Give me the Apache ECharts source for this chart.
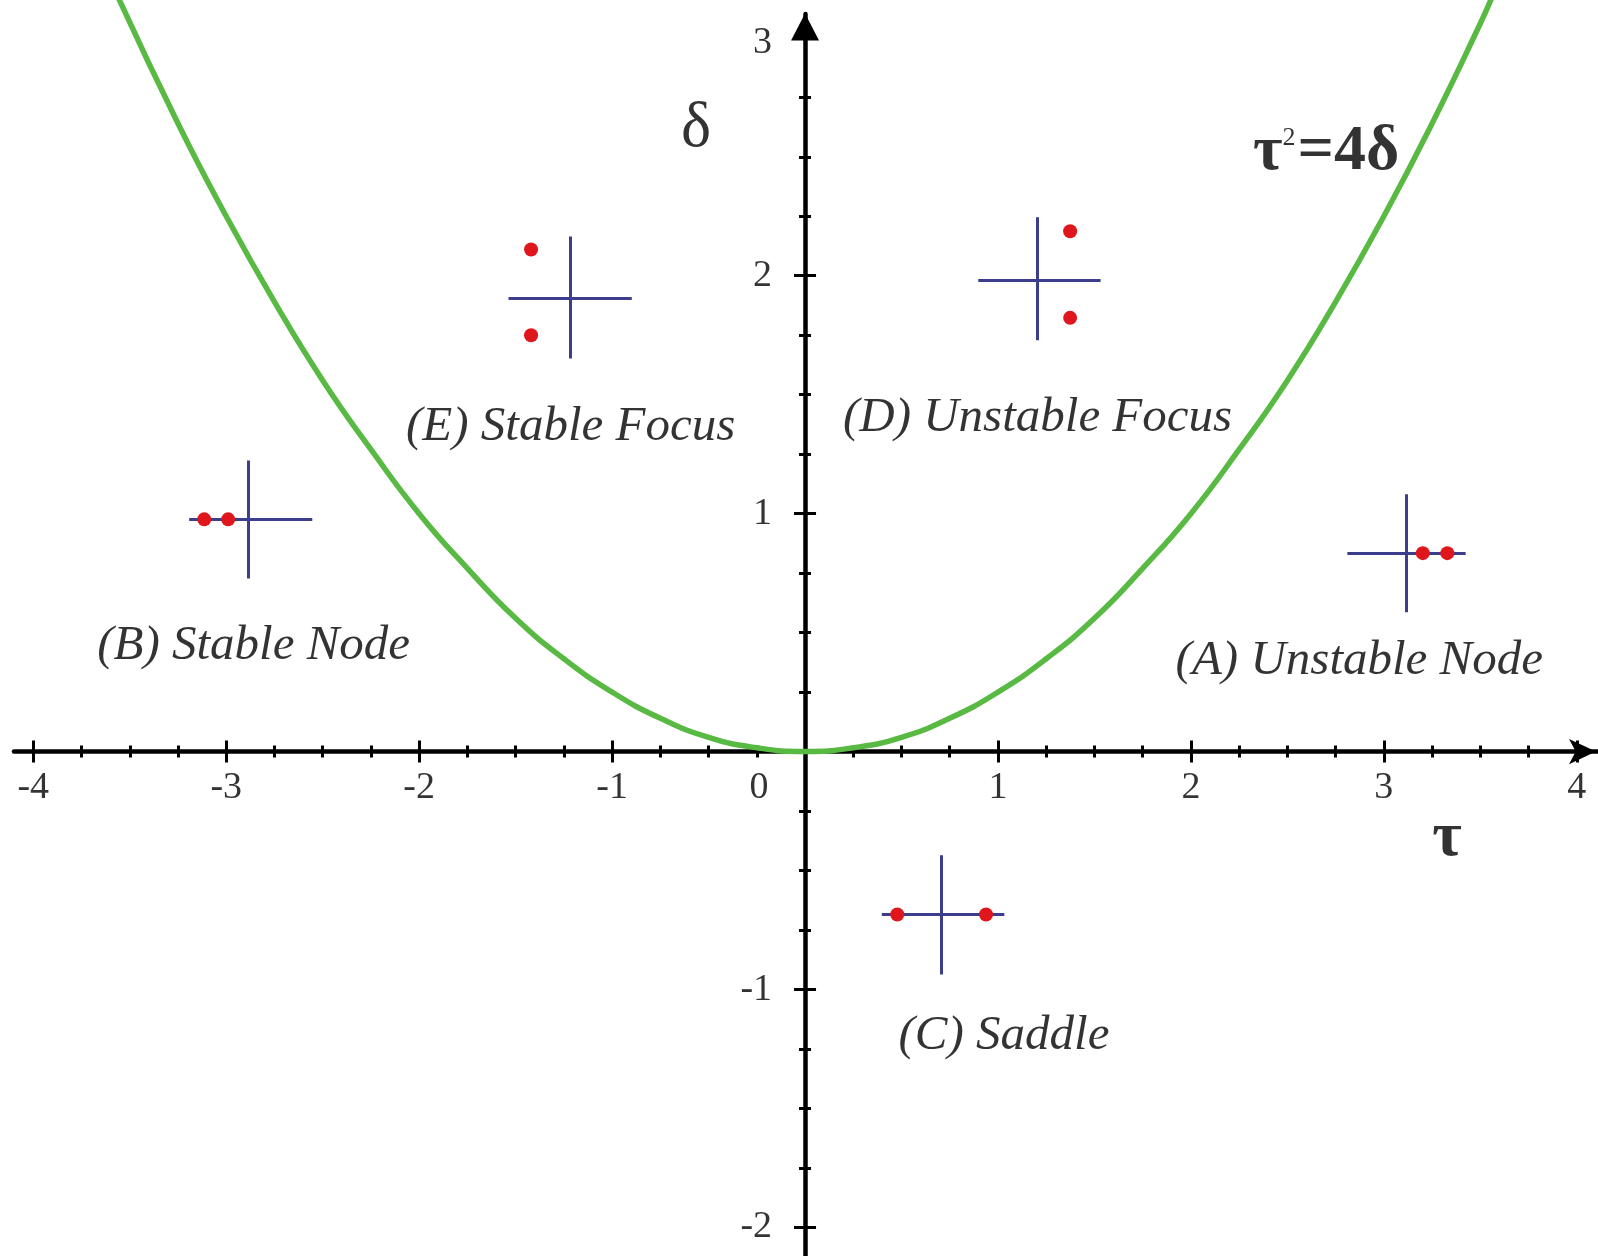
<!DOCTYPE html>
<html><head><meta charset="utf-8">
<script src="https://cdn.jsdelivr.net/npm/echarts@6/dist/echarts.min.js"></script>
<style>html,body{margin:0;padding:0;background:#fff}#c{width:1598px;height:1256px}</style>
</head><body><div id="c"></div>
<script>
// ---------- data ----------
const xMajorTicks = [-4, -3, -2, -1, 1, 2, 3, 4];
const xMinorTicks = [-3.75, -3.5, -3.25, -2.75, -2.5, -2.25, -1.75, -1.5, -1.25, -0.75, -0.5, -0.25,
                     0.25, 0.5, 0.75, 1.25, 1.5, 1.75, 2.25, 2.5, 2.75, 3.25, 3.5, 3.75];
const xTickLabels = [-4, -3, -2, -1, 0, 1, 2, 3, 4];
const yMajorTicks = [-2, -1, 1, 2, 3];
const yMinorTicks = [-1.75, -1.5, -1.25, -0.75, -0.5, -0.25, 0.25, 0.5, 0.75,
                     1.25, 1.5, 1.75, 2.25, 2.5, 2.75];
const yTickLabels = [-2, -1, 1, 2, 3];

// boundary curve tau^2 = 4 delta
const curveTau   = [-3.56, -3.25, -3, -2.75, -2.5, -2.25, -2, -1.75, -1.5, -1.25, -1, -0.75, -0.5, -0.25, 0,
                    0.25, 0.5, 0.75, 1, 1.25, 1.5, 1.75, 2, 2.25, 2.5, 2.75, 3, 3.25, 3.5, 3.56];
const curveDelta = [3.17, 2.64, 2.25, 1.89, 1.56, 1.27, 1.00, 0.77, 0.56, 0.39, 0.25, 0.14, 0.06, 0.016, 0,
                    0.016, 0.06, 0.14, 0.25, 0.39, 0.56, 0.77, 1.00, 1.27, 1.56, 1.89, 2.25, 2.64, 3.06, 3.17];

// region names and where their labels sit
const regionNames      = ['(A) Unstable Node', '(B) Stable Node', '(C) Saddle', '(D) Unstable Focus', '(E) Stable Focus'];
const regionLabelTau   = [2.873, -2.858, 1.031, 1.205, -1.215];
const regionLabelDelta = [0.379, 0.445, -1.194, 1.400, 1.365];

// small eigenvalue-plane glyphs: cross centre and arm extents
const crossTau      = [3.117, -2.884, 0.705, 1.205, -1.215];
const crossDelta    = [0.834, 0.976, -0.685, 1.981, 1.904];
const crossTauMin   = [2.811, -3.192, 0.398, 0.898, -1.537];
const crossTauMax   = [3.424, -2.554, 1.033, 1.532, -0.898];
const crossDeltaMin = [0.586, 0.727, -0.937, 1.729, 1.652];
const crossDeltaMax = [1.082, 1.223, -0.436, 2.246, 2.165];

// eigenvalue dots
const eigenTau   = [3.202, 3.329, -3.114, -2.990, 0.478, 0.938, 1.374, 1.374, -1.420, -1.420];
const eigenDelta = [0.834, 0.834, 0.976, 0.976, -0.685, -0.685, 2.187, 1.823, 2.110, 1.750];

// other annotations
const deltaNameTau = -0.565, deltaNameDelta = 2.617;
const formulaTau = 2.701, formulaDelta = 2.516;
const tauNameTau = 3.327, tauNameDelta = -0.367;

// ---------- chart ----------
const SERIF = '"Liberation Serif", "DejaVu Serif", serif';
const INK = '#000';
const chart = echarts.init(document.getElementById('c'), null, {renderer: 'canvas'});

const baseX = {type: 'value', min: -4.1, max: 4.11, splitLine: {show: false}, gridIndex: 0, axisLabel: {show: false}};
const baseY = {type: 'value', min: -2.12, max: 3.1, splitLine: {show: false}, gridIndex: 0, axisLabel: {show: false}};
const hiddenLine = {onZero: true, onZeroAxisIndex: 0, lineStyle: {opacity: 0}};
const tickStyle = {color: '#000', width: 3};

const xAxes = [
  Object.assign({}, baseX, {
    position: 'bottom',
    axisLine: {onZero: true, onZeroAxisIndex: 0, lineStyle: {color: '#000', width: 4.5},
               symbol: ['none', 'arrow'], symbolSize: [19, 27], symbolOffset: [0, -2]},
    axisTick: {show: true, customValues: xMajorTicks, length: 11, lineStyle: tickStyle}
  }),
  Object.assign({}, baseX, {position: 'top', axisLine: hiddenLine,
    axisTick: {show: true, customValues: xMajorTicks, length: 11, lineStyle: tickStyle}}),
  Object.assign({}, baseX, {position: 'bottom', axisLine: hiddenLine,
    axisTick: {show: true, customValues: xMinorTicks, length: 6, lineStyle: tickStyle}}),
  Object.assign({}, baseX, {position: 'top', axisLine: hiddenLine,
    axisTick: {show: true, customValues: xMinorTicks, length: 6, lineStyle: tickStyle}})
];
const yAxes = [
  Object.assign({}, baseY, {
    position: 'left',
    axisLine: {onZero: true, onZeroAxisIndex: 0, lineStyle: {color: '#000', width: 4.5},
               symbol: ['none', 'triangle'], symbolSize: [28, 27], symbolOffset: [0, -13]},
    axisTick: {show: true, customValues: yMajorTicks, length: 11, lineStyle: tickStyle}
  }),
  Object.assign({}, baseY, {position: 'right', axisLine: hiddenLine,
    axisTick: {show: true, customValues: yMajorTicks, length: 11, lineStyle: tickStyle}}),
  Object.assign({}, baseY, {position: 'left', axisLine: hiddenLine,
    axisTick: {show: true, customValues: yMinorTicks, length: 6, lineStyle: tickStyle}}),
  Object.assign({}, baseY, {position: 'right', axisLine: hiddenLine,
    axisTick: {show: true, customValues: yMinorTicks, length: 6, lineStyle: tickStyle}})
];

const crossSegments = [];
crossTau.forEach((t, i) => {
  crossSegments.push({coords: [[crossTauMin[i], crossDelta[i]], [crossTauMax[i], crossDelta[i]]]});
  crossSegments.push({coords: [[t, crossDeltaMin[i]], [t, crossDeltaMax[i]]]});
});

const tickLabelStyle = {show: true, color: INK, fontFamily: SERIF, fontSize: 38};

const option = {
  backgroundColor: '#ffffff',
  animation: false,
  grid: {left: 14, right: 0, top: 14, bottom: 0, containLabel: false, outerBoundsMode: 'none'},
  xAxis: xAxes,
  yAxis: yAxes,
  series: [
    {
      name: 'boundary', type: 'line', xAxisIndex: 0, yAxisIndex: 0,
      data: curveTau.map((t, i) => [t, curveDelta[i]]),
      smooth: true, showSymbol: false, clip: false, silent: true, z: 3,
      lineStyle: {color: '#58b943', width: 5.5}
    },
    {
      name: 'crosses', type: 'lines', coordinateSystem: 'cartesian2d', xAxisIndex: 0, yAxisIndex: 0,
      data: crossSegments, silent: true, z: 4,
      lineStyle: {color: '#3d3d8e', width: 3, opacity: 1, curveness: 0}
    },
    {
      name: 'eigenvalues', type: 'scatter', xAxisIndex: 0, yAxisIndex: 0,
      data: eigenTau.map((t, i) => [t, eigenDelta[i]]),
      symbol: 'circle', symbolSize: 14, silent: true, z: 5,
      itemStyle: {color: '#e0161d', opacity: 1}
    },
    {
      name: 'xTickLabels', type: 'scatter', xAxisIndex: 0, yAxisIndex: 0,
      symbolSize: 0, silent: true, z: 6,
      data: xTickLabels.map(v => ({value: [v, 0], name: String(v),
        label: v === 0 ? {offset: [-46, 0]} : {}})),
      label: Object.assign({}, tickLabelStyle, {position: 'bottom', distance: 17, formatter: p => p.name})
    },
    {
      name: 'yTickLabels', type: 'scatter', xAxisIndex: 0, yAxisIndex: 0,
      symbolSize: 0, silent: true, z: 6,
      data: yTickLabels.map(v => ({value: [0, v], name: String(v),
        label: v === 3 ? {offset: [0, 5]} : {}})),
      label: Object.assign({}, tickLabelStyle, {position: 'left', distance: 33, formatter: p => p.name})
    },
    {
      name: 'regions', type: 'scatter', xAxisIndex: 0, yAxisIndex: 0,
      data: regionNames.map((n, i) => ({name: n, value: [regionLabelTau[i], regionLabelDelta[i]]})),
      symbolSize: 0, silent: true, z: 6,
      label: {show: true, position: 'inside', formatter: p => p.name, color: INK,
              fontFamily: SERIF, fontStyle: 'italic', fontSize: 49}
    },
    {
      name: 'annotations', type: 'scatter', xAxisIndex: 0, yAxisIndex: 0,
      symbolSize: 0, silent: true, z: 6,
      data: [
        {value: [deltaNameTau, deltaNameDelta],
         label: {show: true, position: 'inside', formatter: 'δ', color: INK, fontFamily: SERIF, fontSize: 64}},
        {value: [formulaTau, formulaDelta],
         label: {show: true, position: 'inside', formatter: '{m|τ}{s|2}{m|=4δ}',
                 rich: {m: {fontFamily: SERIF, fontSize: 64, fontWeight: 'bold', color: INK},
                        s: {fontFamily: SERIF, fontSize: 26, color: INK, padding: [0, 2, 30, 0]}}}},
        {value: [tauNameTau, tauNameDelta],
         label: {show: true, position: 'inside', formatter: 'τ', color: INK, fontFamily: SERIF,
                 fontWeight: 'bold', fontSize: 64}}
      ]
    }
  ]
};
chart.setOption(option);
</script>
</body></html>
